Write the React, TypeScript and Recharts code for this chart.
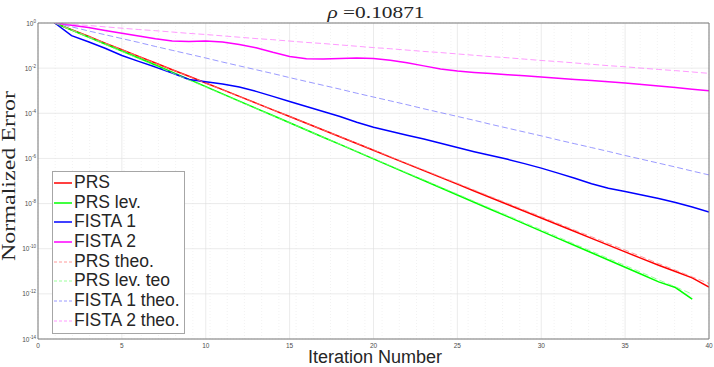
import React from 'react';
import { LineChart, Line, XAxis, YAxis, CartesianGrid, Legend, Label } from 'recharts';

// iteration number (x axis)
const iterations = [
  1, 2, 3, 4, 5, 6, 7, 8, 9, 10, 11, 12, 13, 14, 15, 16, 17, 18, 19, 20,
  21, 22, 23, 24, 25, 26, 27, 28, 29, 30, 31, 32, 33, 34, 35, 36, 37, 38, 39, 40,
];

// log10 of the normalized error
const prsLog = [
  0, -0.3, -0.59, -0.89, -1.18, -1.48, -1.77, -2.07, -2.36, -2.66,
  -2.95, -3.25, -3.55, -3.85, -4.14, -4.44, -4.74, -5.04, -5.34, -5.64,
  -5.94, -6.24, -6.54, -6.84, -7.14, -7.44, -7.74, -8.04, -8.34, -8.64,
  -8.94, -9.24, -9.54, -9.84, -10.14, -10.44, -10.73, -11.01, -11.29, -11.7,
];
const prsLevLog = [
  0, -0.31, -0.62, -0.93, -1.24, -1.55, -1.86, -2.18, -2.5, -2.82,
  -3.14, -3.46, -3.78, -4.1, -4.42, -4.74, -5.06, -5.38, -5.7, -6.02,
  -6.34, -6.66, -6.98, -7.3, -7.62, -7.94, -8.26, -8.58, -8.9, -9.22,
  -9.54, -9.86, -10.18, -10.5, -10.82, -11.14, -11.47, -11.72, -12.23,
];
const fista1Log = [
  0, -0.56, -0.83, -1.12, -1.44, -1.7, -1.95, -2.22, -2.5, -2.6,
  -2.7, -2.84, -3.03, -3.25, -3.48, -3.7, -3.92, -4.14, -4.4, -4.62,
  -4.8, -4.97, -5.14, -5.33, -5.52, -5.7, -5.87, -6.04, -6.23, -6.43,
  -6.65, -6.88, -7.12, -7.32, -7.47, -7.62, -7.78, -7.95, -8.15, -8.37,
];
const fista2Log = [
  0, -0.1, -0.2, -0.33, -0.45, -0.58, -0.7, -0.8, -0.82, -0.8,
  -0.84, -0.95, -1.1, -1.3, -1.48, -1.58, -1.6, -1.57, -1.55, -1.57,
  -1.65, -1.76, -1.9, -2.04, -2.13, -2.19, -2.24, -2.29, -2.34, -2.39,
  -2.45, -2.5, -2.55, -2.6, -2.66, -2.72, -2.79, -2.86, -2.93, -3.0,
];
const prsTheoLog = [
  0, -0.3, -0.59, -0.89, -1.18, -1.48, -1.78, -2.07, -2.37, -2.66,
  -2.96, -3.26, -3.55, -3.85, -4.14, -4.44, -4.74, -5.03, -5.33, -5.62,
  -5.92, -6.22, -6.51, -6.81, -7.1, -7.4, -7.7, -7.99, -8.29, -8.58,
  -8.88, -9.18, -9.47, -9.77, -10.06, -10.36, -10.66, -10.95, -11.25, -11.54,
];
const prsLevTheoLog = [
  0, -0.32, -0.63, -0.95, -1.26, -1.58, -1.9, -2.21, -2.53, -2.84,
  -3.16, -3.48, -3.79, -4.11, -4.42, -4.74, -5.06, -5.37, -5.69, -6.0,
  -6.32, -6.64, -6.95, -7.27, -7.58, -7.9, -8.22, -8.53, -8.85, -9.16,
  -9.48, -9.8, -10.11, -10.43, -10.74, -11.06, -11.38, -11.69, -12.01,
];
const fista1TheoLog = [
  0, -0.17, -0.35, -0.52, -0.69, -0.86, -1.04, -1.21, -1.38, -1.55,
  -1.73, -1.9, -2.07, -2.24, -2.42, -2.59, -2.76, -2.93, -3.11, -3.28,
  -3.45, -3.62, -3.8, -3.97, -4.14, -4.31, -4.49, -4.66, -4.83, -5.0,
  -5.18, -5.35, -5.52, -5.69, -5.87, -6.04, -6.21, -6.38, -6.56, -6.73,
];
const fista2TheoLog = [
  0, -0.06, -0.11, -0.17, -0.23, -0.29, -0.34, -0.4, -0.46, -0.51,
  -0.57, -0.63, -0.69, -0.74, -0.8, -0.86, -0.91, -0.97, -1.03, -1.09,
  -1.14, -1.2, -1.26, -1.31, -1.37, -1.43, -1.49, -1.54, -1.6, -1.66,
  -1.71, -1.77, -1.83, -1.89, -1.94, -2.0, -2.06, -2.11, -2.17, -2.23,
];

const xTicks = [0, 5, 10, 15, 20, 25, 30, 35, 40];
const yTicks = [1, 1e-2, 1e-4, 1e-6, 1e-8, 1e-10, 1e-12, 1e-14];

const series = [
  { key: 'prs', name: 'PRS', color: '#ff0000', width: 1.5, dash: undefined, log: prsLog },
  { key: 'prsLev', name: 'PRS lev.', color: '#00ff00', width: 1.5, dash: undefined, log: prsLevLog },
  { key: 'fista1', name: 'FISTA 1', color: '#0000ff', width: 1.5, dash: undefined, log: fista1Log },
  { key: 'fista2', name: 'FISTA 2', color: '#ff00ff', width: 1.5, dash: undefined, log: fista2Log },
  { key: 'prsTheo', name: 'PRS theo.', color: '#ff8080', width: 0.8, dash: '6 3', log: prsTheoLog },
  { key: 'prsLevTheo', name: 'PRS lev. teo', color: '#80ff80', width: 0.8, dash: '6 3', log: prsLevTheoLog },
  { key: 'fista1Theo', name: 'FISTA 1 theo.', color: '#8080ff', width: 0.8, dash: '6 3', log: fista1TheoLog },
  { key: 'fista2Theo', name: 'FISTA 2 theo.', color: '#ff80ff', width: 0.8, dash: '6 3', log: fista2TheoLog },
];

const rows = iterations.map((it, i) => {
  const row: Record<string, number | undefined> = { x: it };
  series.forEach((s) => {
    const v = s.log[i];
    row[s.key] = v === undefined ? undefined : Math.pow(10, v);
  });
  return row;
});

// minor ticks / grid
const xMinor = iterations.concat([0]).sort((a, b) => a - b);
const yMinor: number[] = [];
for (let d = -14; d < 0; d++) {
  for (let k = 1; k < 10; k++) yMinor.push(k * Math.pow(10, d));
}
yMinor.push(1);

const sans = '"Liberation Sans", Arial, Helvetica, sans-serif';
const serif = '"Liberation Serif", "Times New Roman", serif';
const DOMAIN: [number, number] = [1e-14, 1];

const YTick = (props: any) => {
  const { x, y, payload } = props;
  const e = Math.round(Math.log10(payload.value));
  return (
    <text x={x} y={y + 2.5} textAnchor="end" fontSize={6.5} fill="#4d4d4d" fontFamily={sans}>
      10
      <tspan dy={-3} fontSize={4.5}>{e}</tspan>
    </text>
  );
};

const XTick = (props: any) => {
  const { x, y, payload } = props;
  return (
    <text x={x} y={y + 8.5} textAnchor="middle" fontSize={6.5} fill="#4d4d4d" fontFamily={sans}>
      {payload.value}
    </text>
  );
};

const YTitle = () => (
  <text
    x={15}
    y={176}
    transform="rotate(-90, 15, 176)"
    textAnchor="middle"
    fontSize={18}
    fill="#262626"
    fontFamily={serif}
    textLength={170}
    lengthAdjust="spacingAndGlyphs"
  >
    Normalized Error
  </text>
);

const XTitle = () => (
  <text x={375} y={363} textAnchor="middle" fontSize={18} fill="#262626" fontFamily={sans}>
    Iteration Number
  </text>
);

const LegendBox = () => (
  <div
    style={{
      width: 133,
      height: 163,
      boxSizing: 'border-box',
      border: '1px solid #a6a6a6',
      background: '#ffffff',
      paddingTop: 1,
    }}
  >
    {series.map((s) => (
      <div key={s.key} style={{ height: 19.7, display: 'flex', alignItems: 'center' }}>
        <svg width={21} height={10} style={{ flex: 'none' }}>
          <line x1={1} x2={19} y1={5} y2={5} stroke={s.color} strokeWidth={s.width} strokeDasharray={s.dash ? '3 2' : undefined} />
        </svg>
        <span style={{ fontFamily: sans, fontSize: 17.5, color: '#262626', lineHeight: '19.7px', whiteSpace: 'nowrap' }}>
          {s.name}
        </span>
      </div>
    ))}
  </div>
);

const App: React.FC = () => {
  return (
    <div style={{ position: 'absolute', left: 0, top: 0, width: 714, height: 367, background: '#fff' }}>
      <LineChart width={714} height={367} data={rows} margin={{ top: 23, right: 5, bottom: 0, left: 0 }}>
        {/* minor grid */}
        <CartesianGrid xAxisId="xm" yAxisId="yl" stroke="#e9e9e9" strokeDasharray="1 2" strokeWidth={0.6} />
        {/* major grid */}
        <CartesianGrid xAxisId={0} yAxisId={0} stroke="#dedede" strokeWidth={0.6} />

        <XAxis
          xAxisId={0}
          dataKey="x"
          type="number"
          domain={[0, 40]}
          allowDataOverflow
          ticks={xTicks}
          interval={0}
          height={28}
          tickSize={0}
          tickMargin={0}
          tickLine={false}
          axisLine={{ stroke: '#7f7f7f' }}
          tick={<XTick />}
        >
          <Label content={<XTitle />} />
        </XAxis>
        <XAxis xAxisId="xb" type="number" domain={[0, 40]} allowDataOverflow ticks={xTicks} interval={0} mirror orientation="bottom" height={6} tickSize={4} tick={false} axisLine={false} tickLine={{ stroke: '#7f7f7f' }} />
        <XAxis xAxisId="xt" type="number" domain={[0, 40]} allowDataOverflow ticks={xTicks} interval={0} mirror orientation="top" height={6} tickSize={4} tick={false} axisLine={{ stroke: '#7f7f7f' }} tickLine={{ stroke: '#7f7f7f' }} />
        <XAxis xAxisId="xm" type="number" domain={[0, 40]} allowDataOverflow ticks={xMinor} interval={0} hide />

        <YAxis
          yAxisId={0}
          type="number"
          scale="log"
          domain={DOMAIN}
          allowDataOverflow
          ticks={yTicks}
          interval={0}
          width={38}
          tickSize={0}
          tickMargin={2}
          tickLine={false}
          axisLine={{ stroke: '#7f7f7f' }}
          tick={<YTick />}
        >
          <Label content={<YTitle />} />
        </YAxis>
        <YAxis yAxisId="yl" type="number" scale="log" domain={DOMAIN} allowDataOverflow ticks={yMinor} interval={0} mirror orientation="left" width={6} tickSize={3} tick={false} axisLine={false} tickLine={{ stroke: '#8c8c8c' }} />
        <YAxis yAxisId="yr" type="number" scale="log" domain={DOMAIN} allowDataOverflow ticks={yMinor} interval={0} mirror orientation="right" width={6} tickSize={3} tick={false} axisLine={{ stroke: '#7f7f7f' }} tickLine={{ stroke: '#8c8c8c' }} />

        {series.map((s) => (
          <Line
            key={s.key}
            xAxisId={0}
            yAxisId={0}
            type="linear"
            dataKey={s.key}
            name={s.name}
            stroke={s.color}
            strokeWidth={s.width}
            strokeDasharray={s.dash}
            dot={false}
            activeDot={false}
            isAnimationActive={false}
          />
        ))}

        <Legend
          layout="vertical"
          align="center"
          verticalAlign="middle"
          content={<LegendBox />}
          wrapperStyle={{ left: 52, top: 171, width: 133, height: 163 }}
        />
      </LineChart>
      <svg width={714} height={23} style={{ position: 'absolute', left: 0, top: 0 }}>
        <text x={376} y={18} textAnchor="middle" fontSize={17} fill="#262626" fontFamily={serif} textLength={97} lengthAdjust="spacingAndGlyphs">
          <tspan fontStyle="italic">ρ</tspan> =0.10871
        </text>
      </svg>
    </div>
  );
};

export default App;
